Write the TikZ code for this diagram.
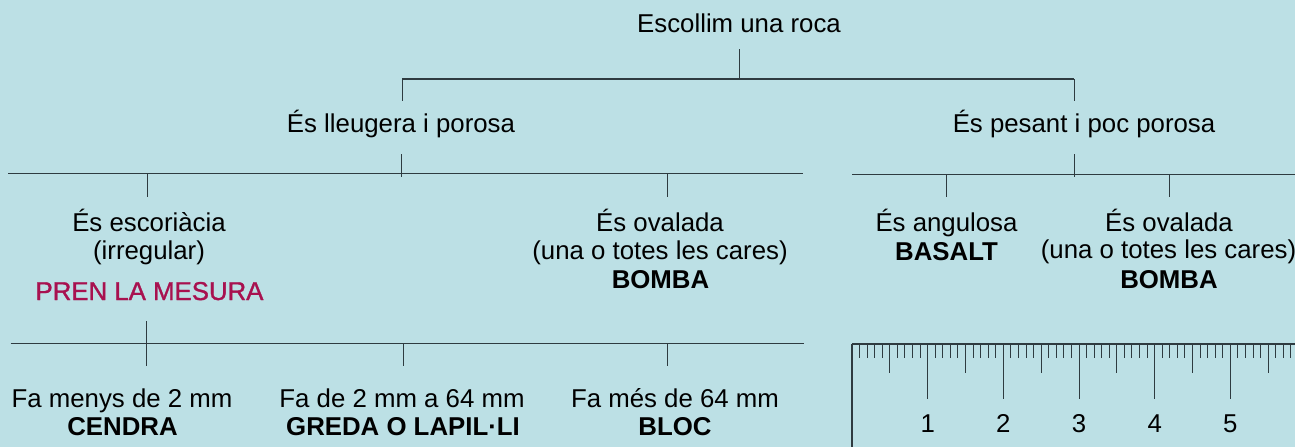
\documentclass[tikz,border=0pt]{standalone}
\usepackage{fontspec}
\setmainfont{Liberation Sans}
\font\medfnt="Liberation Sans:embolden=1.2" at 25.8pt
\definecolor{bg}{HTML}{BCE0E5}
\definecolor{ln}{HTML}{2E3B40}
\definecolor{mag}{HTML}{A8114F}
\begin{document}
\begin{tikzpicture}[x=1pt,y=-1pt,
  txt/.style={anchor=base,inner sep=0pt,font=\fontsize{25.8}{28}\selectfont,text=black},
  bld/.style={txt,font=\fontsize{25.8}{28}\selectfont\bfseries},
  red/.style={txt,text=mag,font=\medfnt},
  hline/.style={draw=ln,line width=1.4pt},
  vline/.style={draw=ln,line width=1pt}]
\fill[bg] (0,0) rectangle (1295,447);
\useasboundingbox (0,0) rectangle (1295,447);
% texts
\node[txt] (root) at (739,32) {Escollim una roca};
\node[txt] (light) at (401,132) {És lleugera i porosa};
\node[txt] (heavy) at (1084,132) {És pesant i poc porosa};
\node[txt] (esc1) at (149,231) {És escoriàcia};
\node[txt] (esc2) at (149,259) {(irregular)};
\node[red] (pren) at (149.5,300) {PREN LA MESURA};
\node[txt] (ov1) at (660,231) {És ovalada};
\node[txt] (ov2) at (660,259.5) {(una o totes les cares)};
\node[bld] (ov3) at (660.5,288.5) {BOMBA};
\node[txt] (ang1) at (946.5,231) {És angulosa};
\node[bld] (ang2) at (946.5,260) {BASALT};
\node[txt] (ovr1) at (1169,231) {És ovalada};
\node[txt] (ovr2) at (1168.5,258.5) {(una o totes les cares)};
\node[bld] (ovr3) at (1169,288) {BOMBA};
\node[txt] (fa1) at (122,407) {Fa menys de 2 mm};
\node[bld] (ce) at (122.5,435) {CENDRA};
\node[txt] (fa2) at (402,407) {Fa de 2 mm a 64 mm};
\node[bld] (gr) at (403,435) {GREDA O LAPIL·LI};
\node[txt] (fa3) at (675,407) {Fa més de 64 mm};
\node[bld] (bl) at (675,435) {BLOC};
% tree coordinates
\coordinate (r0) at (739,49);
\coordinate (r1) at (739,79);
\coordinate (l0) at (402,79);
\coordinate (l1) at (402,101);
\coordinate (h0) at (1074,79);
\coordinate (h1) at (1074,101);
\draw[vline] (r0) -- (r1);
\draw[hline] (l0) -- (h0);
\draw[vline] (l0) -- (l1);
\draw[vline] (h0) -- (h1);
% left level 2
\coordinate (a0) at (401,154);
\coordinate (a1) at (401,177);
\coordinate (aL) at (8,173.5);
\coordinate (aR) at (803,173.5);
\coordinate (a2) at (147,173.5);
\coordinate (a3) at (147,197);
\coordinate (a4) at (667,173.5);
\coordinate (a5) at (667,197);
\draw[hline] (aL) -- (aR);
\draw[vline] (a0) -- (a1);
\draw[vline] (a2) -- (a3);
\draw[vline] (a4) -- (a5);
% right level 2
\coordinate (b0) at (1074,154);
\coordinate (b1) at (1074,177);
\coordinate (bL) at (852,174.3);
\coordinate (bR) at (1295,174.3);
\coordinate (b2) at (946.5,174.3);
\coordinate (b3) at (946.5,197);
\coordinate (b4) at (1169,174.3);
\coordinate (b5) at (1169,197);
\draw[hline] (bL) -- (bR);
\draw[vline] (b0) -- (b1);
\draw[vline] (b2) -- (b3);
\draw[vline] (b4) -- (b5);
% measure level
\coordinate (c0) at (146.5,321);
\coordinate (c1) at (146.5,366);
\coordinate (cL) at (10.5,343.7);
\coordinate (cR) at (804,343.7);
\coordinate (c2) at (403.8,343.7);
\coordinate (c3) at (403.8,366);
\coordinate (c4) at (667.4,343.7);
\coordinate (c5) at (667.4,366);
\draw[hline] (cL) -- (cR);
\draw[vline] (c0) -- (c1);
\draw[vline] (c2) -- (c3);
\draw[vline] (c4) -- (c5);
% ruler
\coordinate (ru0) at (852,344);
\coordinate (ru1) at (1295,344);
\coordinate (ru2) at (852,447);
\draw[hline] (ru0) -- (ru1);
\draw[hline] (ru0) -- (ru2);
\foreach \i in {1,...,58}{
  \pgfmathsetmacro{\yy}{mod(\i,10)==0 ? 399 : (mod(\i,5)==0 ? 373.3 : 358.3)}
  \draw[vline] (852+7.567*\i,344) -- (852+7.567*\i,\yy);
}
\foreach \k in {1,...,5}{
  \node[txt] (n\k) at (852+75.67*\k,432) {\k};
}
\end{tikzpicture}
\end{document}
